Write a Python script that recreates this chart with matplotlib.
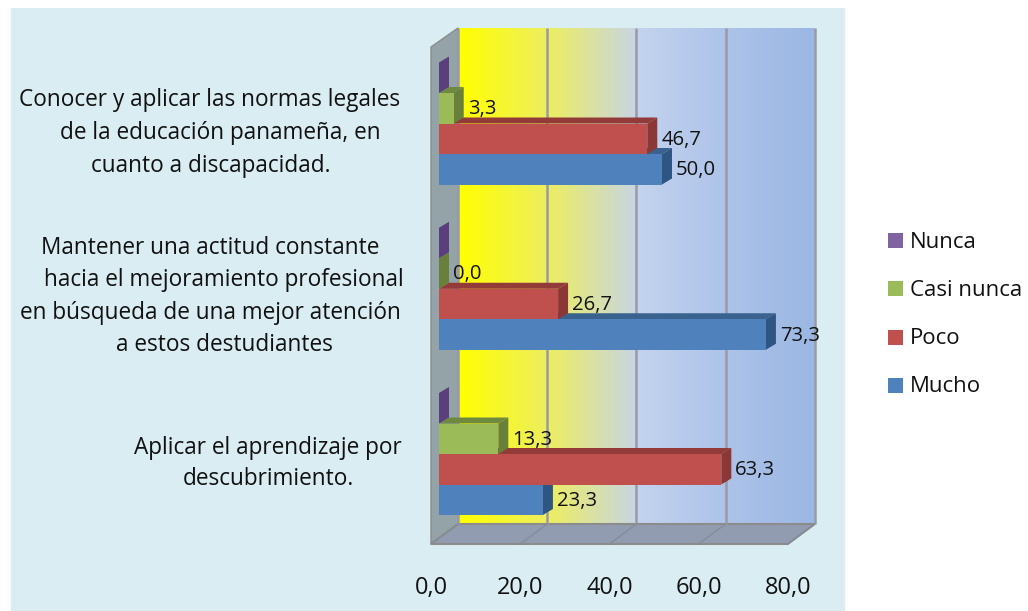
import numpy as np
import matplotlib
matplotlib.use("Agg")
import matplotlib.pyplot as plt
from matplotlib.colors import LinearSegmentedColormap
from matplotlib.patches import Polygon, Rectangle

series_names = ["Mucho", "Poco", "Casi nunca", "Nunca"]
mucho = [23.3, 73.3, 50.0]
poco = [63.3, 26.7, 46.7]
casi_nunca = [13.3, 0.0, 3.3]
nunca = [0.0, 0.0, 0.0]
x_ticks = [0, 20, 40, 60, 80]
x_tick_labels = ["0,0", "20,0", "40,0", "60,0", "80,0"]
category_lines = [
    ["Aplicar el aprendizaje por", "descubrimiento."],
    ["Mantener una actitud constante", "hacia el mejoramiento profesional",
     "en búsqueda de una mejor atención", "a estos destudiantes"],
    ["Conocer y aplicar las normas legales", "de la educación panameña, en",
     "cuanto a discapacidad."],
]

front_colors = ["#4F81BD", "#C0504D", "#9BBB59", "#8064A2"]
side_colors = ["#2F5583", "#8A3735", "#688039", "#5A3F7C"]
top_colors = ["#3A628F", "#923B38", "#6F8A3E", "#5F4484"]

W, H = 1028, 611
X0_PX, X_SCALE = 439.0, 4.46          # pixels at value 0, pixels per unit
Y0_PX, Y_SCALE = 454.0, 165.25        # pixels at first group, pixels per group


def dx(px):
    return px / X_SCALE


def dy(px):
    return px / Y_SCALE


def xd(px):
    return (px - X0_PX) / X_SCALE


def yd(px):
    return (Y0_PX - px) / Y_SCALE


plt.rcParams["font.family"] = ["Open Sans", "DejaVu Sans"]
fig = plt.figure(figsize=(W / 100, H / 100), dpi=100, facecolor="white")
ax = fig.add_axes([0, 0, 1, 1])
ax.set_axis_off()
ax.set_xlim(xd(0), xd(W))
ax.set_ylim(yd(H), yd(0))

# Light panel behind the chart
ax.add_patch(Rectangle((xd(11), yd(611)), dx(834), dy(603),
                       fc="#DAEDF3", ec="none", zorder=0))

# Back wall with its horizontal colour ramp
wall_x0, wall_x1 = x_ticks[0] + dx(19), x_ticks[-1] + dx(19)
wall_y0, wall_y1 = yd(524), yd(28)
ramp = LinearSegmentedColormap.from_list(
    "wall", [(0, "#FFFF00"), (0.25, "#EDEE60"), (0.49, "#C9D6DF"),
             (0.51, "#C3D3EE"), (0.75, "#ADC3E9"), (1, "#9BB7E3")])
ax.imshow(np.linspace(0, 1, 256)[None, :], cmap=ramp, aspect="auto",
          extent=(wall_x0, wall_x1, wall_y0, wall_y1), zorder=1)
ax.set_xlim(xd(0), xd(W))
ax.set_ylim(yd(H), yd(0))

# Side wall and floor
floor_x = x_ticks[0] - dx(8)
side = [(floor_x, yd(544)), (wall_x0, wall_y0), (wall_x0, wall_y1), (floor_x, yd(47))]
ax.add_patch(Polygon(side, closed=True, fc="#94A3A8", ec="#8C8C8C", lw=1, zorder=2))
floor = [(floor_x, yd(544)), (x_ticks[-1] - dx(8), yd(544)),
         (wall_x1, wall_y0), (wall_x0, wall_y0)]
ax.add_patch(Polygon(floor, closed=True, fc="#919CB0", ec="#8C8C8C", lw=1.5, zorder=2))

# Gridlines up the back wall and across the floor
for t in x_ticks:
    ax.plot([t + dx(19)] * 2, [wall_y0, wall_y1], color="#9A9AA6", lw=1.8,
            solid_capstyle="butt", zorder=3)
    ax.plot([t - dx(8), t + dx(19)], [yd(544), wall_y0], color="#858C99", lw=1,
            zorder=3)

# Oblique bars, drawn bottom to top so that upper bars cover lower depth faces
y_pos = np.arange(len(category_lines))
bar_h = dy(30.5)
depth_x, depth_y = dx(10), dy(6)
all_series = [mucho, poco, casi_nunca, nunca]
for s, values in enumerate(all_series):
    offset = (s - 1.5) * bar_h
    for g, v in zip(y_pos, values):
        base = g + offset - bar_h / 2
        z = 4 + s + 0.0
        ax.barh(g + offset, v, height=bar_h, color=front_colors[s], zorder=z + 0.2)
        top = [(0, base + bar_h), (v, base + bar_h),
               (v + depth_x, base + bar_h + depth_y), (depth_x, base + bar_h + depth_y)]
        ax.add_patch(Polygon(top, closed=True, fc=top_colors[s], ec="none", zorder=z))
        end = [(v, base), (v + depth_x, base + depth_y),
               (v + depth_x, base + bar_h + depth_y), (v, base + bar_h)]
        ax.add_patch(Polygon(end, closed=True, fc=side_colors[s], ec="none", zorder=z + 0.1))

# Value labels (the empty last series carries none)
for s, values in enumerate(all_series[:3]):
    offset = (s - 1.5) * bar_h
    for g, v in zip(y_pos, values):
        ax.text(v + dx(14), g + offset - dy(1), f"{v:.1f}".replace(".", ","),
                ha="left", va="center", fontsize=14.6, color="#111111", zorder=12)

# Value axis labels sit under the front edge of the floor
for t, lab in zip(x_ticks, x_tick_labels):
    ax.text(t - dx(8), yd(588), lab, ha="center", va="center",
            fontsize=17, color="#111111", zorder=12)

# Category labels, one text per line
line_layout = [
    [(268, 448), (268, 479)],
    [(210, 248), (224, 280), (210, 313), (224, 345)],
    [(210, 100), (220, 133), (211, 166)],
]
for lines, places in zip(category_lines, line_layout):
    for text, (px, py) in zip(lines, places):
        ax.text(xd(px), yd(py), text, ha="center", va="center",
                fontsize=16.3, color="#111111", zorder=12)

# Legend
legend_y = [386, 338, 289, 241]
for name, col, py in zip(series_names, front_colors, legend_y):
    ax.add_patch(Rectangle((xd(888), yd(py + 7)), dx(15), dy(15),
                           fc=col, ec="none", zorder=12))
    ax.text(xd(910), yd(py + 1), name, ha="left", va="center", fontsize=16,
            color="#111111", zorder=12)

fig.savefig("out.png", dpi=100, facecolor="white")
